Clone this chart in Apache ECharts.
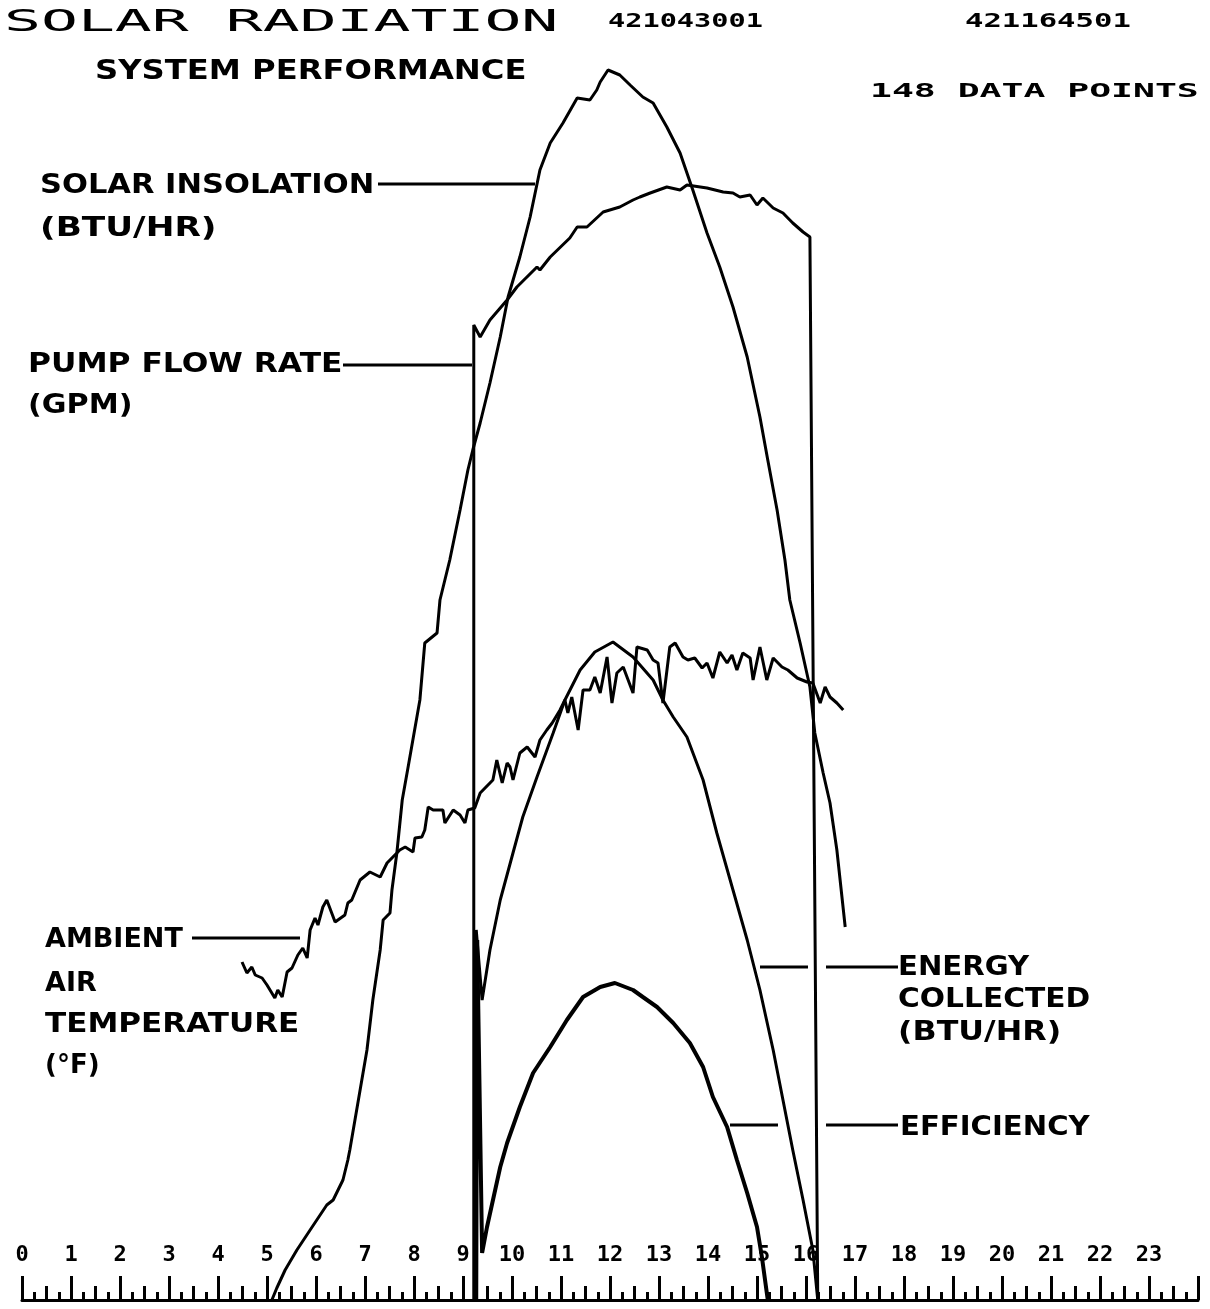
<!DOCTYPE html>
<html>
<head>
<meta charset="utf-8">
<script src="https://cdn.jsdelivr.net/npm/echarts@6/dist/echarts.min.js"></script>
<style>
  html, body { margin: 0; padding: 0; background: #fff; }
  #main { width: 1210px; height: 1309px; }
</style>
</head>
<body>
<div id="main"></div>
<script>
// hour of day on x, chart units (0..125) on y
var tickLabels = ['0','1','2','3','4','5','6','7','8','9','10','11','12','13','14','15','16','17','18','19','20','21','22','23'];

var insolHours = [5.10,5.20,5.37,5.61,5.88,6.22,6.35,6.55,6.65,6.69,6.90,7.04,7.16,7.31,7.37,7.51,7.55,7.65,7.76,7.88,8.12,8.22,8.47,8.53,8.73,8.94,9.10,9.20,9.35,9.55,9.76,9.92,10.16,10.37,10.57,10.78,11.04,11.33,11.59,11.73,11.80,11.96,12.20,12.41,12.67,12.88,13.16,13.43,13.69,13.98,14.24,14.51,14.80,15.06,15.22,15.41,15.57,15.67,15.88,16.08,16.18,16.35,16.49,16.63,16.80];
var insolValues = [0,1.2,3.0,5.0,7.0,9.5,10.0,12.0,14.0,15.0,21.0,25.0,30.0,35.0,38.0,38.7,41.0,44.7,50.0,53.3,60.0,65.7,66.7,70.0,74.0,79.0,83.0,85.0,87.7,91.7,96.3,100.3,104.3,108.3,113.0,115.7,117.7,120.2,120.0,121.0,121.8,123.0,122.5,121.5,120.3,119.7,117.3,114.7,111.0,106.7,103.3,99.3,94.3,88.3,84.0,79.0,74.0,70.0,65.7,61.3,56.7,52.7,49.7,45.0,37.3];

var pumpHours = [9.22,9.22,9.35,9.55,9.90,10.10,10.51,10.57,10.78,11.18,11.33,11.53,11.86,12.20,12.47,12.61,12.82,13.16,13.43,13.57,13.98,14.31,14.51,14.65,14.86,15.00,15.12,15.33,15.53,15.73,15.94,16.08,16.24];
var pumpValues = [0,97.5,96.3,98.0,100.0,101.3,103.3,103.0,104.3,106.2,107.3,107.3,108.8,109.3,110.0,110.3,110.7,111.3,111.0,111.5,111.2,110.8,110.7,110.3,110.5,109.5,110.2,109.2,108.7,107.7,106.8,106.3,0];

var energyHours = [9.24,9.27,9.39,9.55,9.76,10.02,10.22,10.51,10.84,11.08,11.39,11.69,12.06,12.47,12.88,13.08,13.29,13.57,13.90,14.18,14.51,14.80,15.06,15.33,15.53,15.73,15.94,16.14,16.24];
var energyValues = [0,37.0,30.0,35.0,40.0,44.7,48.3,52.3,56.7,60.0,63.0,64.8,65.8,64.3,62.0,60.0,58.3,56.3,52.0,46.7,41.0,36.0,31.0,25.0,20.0,15.0,10.0,5.0,0];

var effHours = [9.27,9.29,9.39,9.49,9.76,9.90,10.16,10.43,10.78,11.12,11.45,11.80,12.10,12.47,12.67,12.96,13.29,13.63,13.90,14.10,14.39,14.59,14.80,15.00,15.10,15.22];
var effValues = [0,36.0,4.7,7.3,13.3,15.7,19.3,22.7,25.3,28.0,30.3,31.3,31.7,31.0,30.3,29.3,27.7,25.7,23.3,20.3,17.3,14.0,10.7,7.3,4.3,0];

var ambientHours = [4.49,4.59,4.69,4.76,4.90,5.00,5.16,5.22,5.31,5.41,5.51,5.63,5.73,5.82,5.88,5.98,6.04,6.14,6.22,6.39,6.59,6.65,6.73,6.90,7.10,7.31,7.45,7.57,7.71,7.82,7.98,8.02,8.16,8.22,8.29,8.39,8.59,8.63,8.80,8.94,9.04,9.10,9.24,9.35,9.61,9.69,9.80,9.90,9.96,10.02,10.16,10.31,10.47,10.57,10.71,10.82,10.98,11.08,11.14,11.22,11.35,11.45,11.59,11.69,11.80,11.94,12.04,12.14,12.27,12.47,12.55,12.76,12.88,12.98,13.08,13.22,13.33,13.49,13.59,13.73,13.88,13.98,14.10,14.24,14.39,14.49,14.59,14.71,14.86,14.92,15.06,15.20,15.33,15.51,15.63,15.82,16.02,16.14,16.29,16.39,16.49,16.63,16.76];
var ambientValues = [33.8,32.7,33.3,32.5,32.2,31.5,30.2,31.0,30.3,32.8,33.2,34.5,35.2,34.2,37.0,38.2,37.5,39.3,40.0,37.8,38.5,39.7,40.0,42.0,42.8,42.3,43.7,44.3,45.0,45.3,44.8,46.2,46.3,47.0,49.3,49.0,49.0,47.7,49.0,48.5,47.7,49.0,49.2,50.7,52.0,54.0,51.7,53.7,53.3,52.0,54.7,55.3,54.3,56.0,57.0,57.7,59.0,60.0,58.7,60.3,57.0,61.0,61.0,62.3,60.7,64.3,59.7,62.7,63.3,60.7,65.3,65.0,64.0,63.7,59.7,65.3,65.7,64.3,64.0,64.2,63.2,63.7,62.2,64.8,63.7,64.5,63.0,64.7,64.2,62.0,65.3,62.0,64.2,63.3,63.0,62.2,61.8,61.7,59.7,61.3,60.3,59.7,59.0];

function zip(xs, ys) {
    var out = [];
    for (var i = 0; i < xs.length; i++) out.push([xs[i], ys[i]]);
    return out;
}

function curve(name, xs, ys, width) {
    return {
        name: name,
        type: 'line',
        data: zip(xs, ys),
        showSymbol: false,
        silent: true,
        lineStyle: { color: '#000', width: width || 3 },
        z: 5
    };
}

function txt(text, x, y, size, sx, family, weight) {
    return {
        type: 'text', x: x, y: y, scaleX: sx || 1,
        style: {
            text: text, fill: '#000',
            fontSize: size, fontWeight: weight || 'bold',
            fontFamily: family || 'DejaVu Sans',
            textAlign: 'left', align: 'left',
            textVerticalAlign: 'middle', verticalAlign: 'middle'
        }
    };
}

function lead(x1, y1, x2, y2) {
    return { type: 'line', shape: { x1: x1, y1: y1, x2: x2, y2: y2 }, style: { stroke: '#000', lineWidth: 3 } };
}

function tickAxis(interval, len, showLabel, showLine) {
    return {
        type: 'value', position: 'bottom', min: 0, max: 24, interval: interval,
        axisLine: { show: showLine, lineStyle: { color: '#000', width: 3 } },
        axisTick: { show: true, inside: true, length: len, lineStyle: { color: '#000', width: 3 } },
        axisLabel: {
            show: showLabel, inside: true, margin: 34,
            color: '#000', fontSize: 22, fontWeight: 'bold', fontFamily: 'DejaVu Sans Mono',
            formatter: function (v) { return tickLabels[v] !== undefined ? tickLabels[v] : ''; }
        },
        splitLine: { show: false }
    };
}

var myChart = echarts.init(document.getElementById('main'));
var option = {
    animation: false,
    backgroundColor: '#fff',
    grid: { left: 22, right: 12, top: 50, bottom: 9 },
    xAxis: [
        tickAxis(1, 24, true, true),
        tickAxis(0.5, 14, false, false),
        tickAxis(0.25, 8, false, false)
    ],
    yAxis: { type: 'value', min: 0, max: 125, show: false },
    series: [
        curve('SOLAR INSOLATION', insolHours, insolValues),
        curve('PUMP FLOW RATE', pumpHours, pumpValues),
        curve('ENERGY COLLECTED', energyHours, energyValues),
        curve('EFFICIENCY', effHours, effValues, 4),
        curve('AMBIENT AIR TEMPERATURE', ambientHours, ambientValues)
    ],
    graphic: [
        txt('SOLAR RADIATION', 4, 23, 31, 1.98, 'DejaVu Sans Mono', 'normal'),
        txt('421043001', 608, 22, 20, 1.43, 'DejaVu Sans Mono'),
        txt('421164501', 965, 22, 20, 1.53, 'DejaVu Sans Mono'),
        txt('SYSTEM PERFORMANCE', 95, 72, 26, 1.24),
        txt('148 DATA POINTS', 870, 92, 20, 1.82, 'DejaVu Sans Mono'),
        txt('SOLAR INSOLATION', 40, 186, 27, 1.13),
        txt('(BTU/HR)', 40, 229, 26, 1.32),
        txt('PUMP FLOW RATE', 28, 365, 27, 1.16),
        txt('(GPM)', 28, 406, 26, 1.16),
        txt('AMBIENT', 45, 940, 27, 1.0),
        txt('AIR', 45, 984, 27, 1.0),
        txt('TEMPERATURE', 45, 1025, 27, 1.15),
        txt('(°F)', 45, 1066, 26, 1.0),
        txt('ENERGY', 898, 968, 27, 1.08),
        txt('COLLECTED', 898, 1000, 27, 1.1),
        txt('(BTU/HR)', 898, 1033, 26, 1.22),
        txt('EFFICIENCY', 900, 1128, 27, 1.08),
        lead(378, 184, 535, 184),
        lead(343, 365, 472, 365),
        lead(192, 938, 300, 938),
        lead(760, 967, 808, 967),
        lead(826, 967, 898, 967),
        lead(730, 1125, 778, 1125),
        lead(826, 1125, 898, 1125)
    ]
};
myChart.setOption(option);
</script>
</body>
</html>
